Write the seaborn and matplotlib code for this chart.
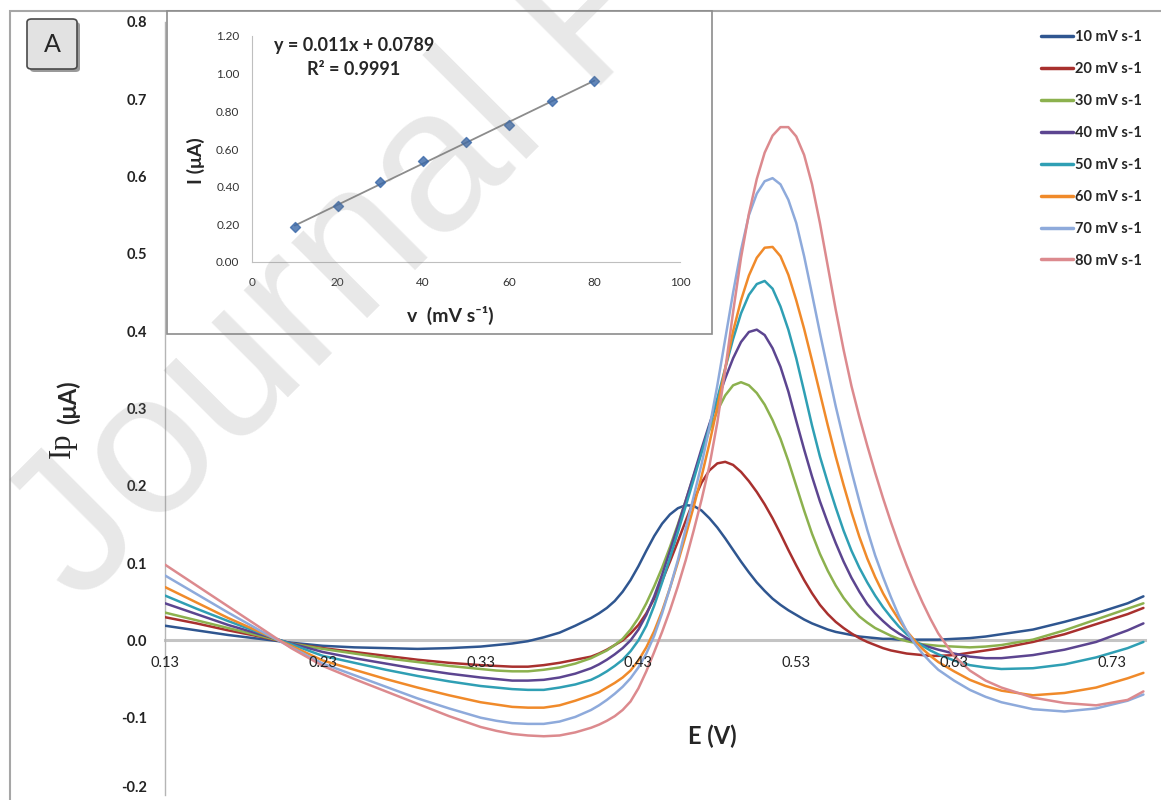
import numpy as np
import pandas as pd
import matplotlib
matplotlib.use("Agg")
import matplotlib.pyplot as plt
from matplotlib.patches import Rectangle, FancyBboxPatch
import seaborn as sns

# -------------------------------
# Data
# -------------------------------
# potential grid (V), finer where the peaks are
E = [0.13, 0.15, 0.17, 0.19, 0.21, 0.23, 0.25, 0.27, 0.29, 0.31, 0.33,
     0.34, 0.35, 0.36, 0.37, 0.38, 0.39, 0.40,
     0.405, 0.410, 0.415, 0.420, 0.425, 0.430, 0.435, 0.440, 0.445, 0.450,
     0.455, 0.460, 0.465, 0.470, 0.475, 0.480, 0.485, 0.490, 0.495, 0.500,
     0.505, 0.510, 0.515, 0.520, 0.525, 0.530, 0.535, 0.540, 0.545, 0.550,
     0.555, 0.560, 0.565, 0.570, 0.575, 0.580, 0.585, 0.590, 0.595, 0.600,
     0.605, 0.610, 0.615, 0.620,
     0.63, 0.64, 0.65, 0.66,
     0.68, 0.70, 0.72, 0.74, 0.75]

ip_10 = [0.019, 0.013, 0.007, 0.002, -0.003, -0.007, -0.009, -0.010, -0.011, -0.010, -0.008,
         -0.006, -0.004, -0.001, 0.004, 0.010, 0.019, 0.029,
         0.035, 0.042, 0.051, 0.063, 0.078, 0.096, 0.116, 0.135, 0.151, 0.163,
         0.171, 0.175, 0.174, 0.168, 0.158, 0.146, 0.132, 0.117, 0.102, 0.088,
         0.075, 0.064, 0.054, 0.046, 0.039, 0.033, 0.027, 0.022, 0.018, 0.014,
         0.011, 0.009, 0.007, 0.005, 0.004, 0.003, 0.002, 0.002, 0.001, 0.001,
         0.001, 0.001, 0.001, 0.001,
         0.002, 0.003, 0.005, 0.008,
         0.014, 0.024, 0.035, 0.048, 0.057]
ip_20 = [0.030, 0.022, 0.013, 0.005, -0.004, -0.010, -0.015, -0.020, -0.025, -0.029, -0.032,
         -0.033, -0.034, -0.034, -0.032, -0.029, -0.025, -0.021,
         -0.017, -0.012, -0.006, 0.000, 0.009, 0.020, 0.035, 0.054, 0.077, 0.102,
         0.128, 0.155, 0.181, 0.204, 0.220, 0.229, 0.231, 0.227, 0.218, 0.206,
         0.192, 0.176, 0.158, 0.138, 0.117, 0.097, 0.078, 0.061, 0.046, 0.034,
         0.024, 0.016, 0.009, 0.003, -0.002, -0.006, -0.010, -0.013, -0.015, -0.017,
         -0.018, -0.019, -0.020, -0.020,
         -0.019, -0.016, -0.013, -0.010,
         -0.002, 0.008, 0.021, 0.034, 0.042]
ip_30 = [0.036, 0.026, 0.016, 0.006, -0.004, -0.011, -0.017, -0.023, -0.028, -0.033, -0.037,
         -0.039, -0.040, -0.040, -0.038, -0.035, -0.030, -0.023,
         -0.018, -0.013, -0.006, 0.002, 0.014, 0.029, 0.048, 0.070, 0.094, 0.121,
         0.150, 0.181, 0.213, 0.244, 0.272, 0.297, 0.317, 0.330, 0.334, 0.330,
         0.320, 0.305, 0.285, 0.261, 0.232, 0.200, 0.168, 0.138, 0.112, 0.090,
         0.071, 0.055, 0.042, 0.031, 0.023, 0.016, 0.011, 0.006, 0.002, -0.001,
         -0.003, -0.005, -0.006, -0.007,
         -0.008, -0.009, -0.008, -0.006,
         0.001, 0.013, 0.027, 0.041, 0.048]
ip_40 = [0.048, 0.034, 0.020, 0.008, -0.004, -0.015, -0.023, -0.030, -0.037, -0.043, -0.048,
         -0.050, -0.052, -0.052, -0.051, -0.048, -0.043, -0.036,
         -0.031, -0.025, -0.018, -0.010, 0.000, 0.014, 0.033, 0.057, 0.085, 0.116,
         0.148, 0.181, 0.214, 0.248, 0.280, 0.310, 0.339, 0.365, 0.386, 0.399,
         0.402, 0.395, 0.378, 0.354, 0.322, 0.284, 0.247, 0.212, 0.180, 0.152,
         0.126, 0.102, 0.081, 0.063, 0.047, 0.035, 0.025, 0.016, 0.009, 0.003,
         -0.002, -0.006, -0.009, -0.012,
         -0.017, -0.021, -0.023, -0.023,
         -0.019, -0.012, -0.002, 0.013, 0.022]
ip_50 = [0.058, 0.041, 0.025, 0.010, -0.005, -0.020, -0.029, -0.038, -0.046, -0.053, -0.059,
         -0.061, -0.063, -0.064, -0.064, -0.061, -0.057, -0.051,
         -0.046, -0.040, -0.033, -0.025, -0.014, 0.000, 0.019, 0.045, 0.075, 0.107,
         0.140, 0.174, 0.208, 0.243, 0.277, 0.313, 0.352, 0.390, 0.423, 0.447,
         0.461, 0.465, 0.455, 0.432, 0.402, 0.365, 0.322, 0.278, 0.238, 0.204,
         0.172, 0.142, 0.116, 0.094, 0.075, 0.058, 0.043, 0.030, 0.018, 0.008,
         0.000, -0.007, -0.013, -0.018,
         -0.026, -0.032, -0.035, -0.037,
         -0.036, -0.031, -0.022, -0.010, -0.002]
ip_60 = [0.069, 0.049, 0.029, 0.011, -0.007, -0.026, -0.038, -0.050, -0.061, -0.071, -0.080,
         -0.083, -0.086, -0.087, -0.087, -0.084, -0.078, -0.071,
         -0.067, -0.061, -0.055, -0.048, -0.039, -0.026, -0.009, 0.012, 0.038, 0.068,
         0.101, 0.136, 0.173, 0.212, 0.255, 0.302, 0.352, 0.400, 0.440, 0.472,
         0.495, 0.508, 0.509, 0.497, 0.473, 0.440, 0.403, 0.362, 0.320, 0.278,
         0.238, 0.201, 0.166, 0.134, 0.106, 0.082, 0.061, 0.043, 0.027, 0.012,
         0.000, -0.011, -0.020, -0.028,
         -0.040, -0.051, -0.059, -0.065,
         -0.071, -0.068, -0.061, -0.049, -0.042]
ip_70 = [0.084, 0.060, 0.036, 0.013, -0.009, -0.030, -0.045, -0.060, -0.075, -0.088, -0.100,
         -0.104, -0.107, -0.108, -0.108, -0.105, -0.099, -0.090,
         -0.084, -0.077, -0.069, -0.060, -0.049, -0.035, -0.017, 0.006, 0.035, 0.068,
         0.104, 0.145, 0.186, 0.228, 0.275, 0.330, 0.390, 0.450, 0.505, 0.550,
         0.578, 0.594, 0.598, 0.590, 0.570, 0.540, 0.497, 0.448, 0.398, 0.350,
         0.303, 0.260, 0.219, 0.180, 0.143, 0.110, 0.082, 0.056, 0.032, 0.012,
         -0.004, -0.017, -0.028, -0.038,
         -0.052, -0.064, -0.073, -0.080,
         -0.089, -0.092, -0.088, -0.078, -0.070]
ip_80 = [0.098, 0.071, 0.044, 0.017, -0.010, -0.033, -0.050, -0.066, -0.082, -0.098, -0.112,
         -0.117, -0.121, -0.123, -0.124, -0.123, -0.119, -0.113,
         -0.109, -0.104, -0.098, -0.090, -0.079, -0.062, -0.040, -0.015, 0.011, 0.039,
         0.070, 0.104, 0.142, 0.182, 0.226, 0.282, 0.350, 0.425, 0.495, 0.552,
         0.597, 0.631, 0.653, 0.664, 0.664, 0.652, 0.628, 0.590, 0.540, 0.484,
         0.428, 0.376, 0.329, 0.289, 0.252, 0.217, 0.184, 0.153, 0.124, 0.097,
         0.072, 0.049, 0.028, 0.009,
         -0.020, -0.039, -0.052, -0.061,
         -0.074, -0.081, -0.084, -0.077, -0.066]

rates = ["10 mV s-1", "20 mV s-1", "30 mV s-1", "40 mV s-1",
         "50 mV s-1", "60 mV s-1", "70 mV s-1", "80 mV s-1"]
colors = ["#2f5690", "#a8302e", "#8cb14e", "#5c4590",
          "#2f9fb4", "#f08a2a", "#8eaadb", "#dc8a8e"]
curves = [ip_10, ip_20, ip_30, ip_40, ip_50, ip_60, ip_70, ip_80]

# inset: peak current vs scan rate
scan_rate = [10, 20, 30, 40, 50, 60, 70, 80]
peak_i = [0.185, 0.300, 0.424, 0.535, 0.635, 0.729, 0.856, 0.962]

x_ticks = [0.13, 0.23, 0.33, 0.43, 0.53, 0.63, 0.73]
y_ticks = [-0.2, -0.1, 0.0, 0.1, 0.2, 0.3, 0.4, 0.5, 0.6, 0.7, 0.8]
in_x_ticks = [0, 20, 40, 60, 80, 100]
in_y_ticks = [0, 0.2, 0.4, 0.6, 0.8, 1.0, 1.2]

df = pd.concat([pd.DataFrame({"E": E, "Ip": c, "rate": r}) for r, c in zip(rates, curves)],
               ignore_index=True)

# -------------------------------
# Figure
# -------------------------------
sns.set_style("white")
plt.rcParams["font.family"] = ["Lato", "DejaVu Sans"]

W, H = 1161, 800
fig = plt.figure(figsize=(W / 100, H / 100), dpi=100)

ax = fig.add_axes([165 / W, 5 / H, 980 / W, 773 / H])
sns.lineplot(data=df, x="E", y="Ip", hue="rate", hue_order=rates, palette=colors,
             estimator=None, sort=False, linewidth=1.8, ax=ax, zorder=3)

ax.set_xlim(0.13, 0.751)
ax.set_ylim(-0.2, 0.8)
ax.set_xticks(x_ticks)
ax.set_xticklabels([f"{t:.2f}" for t in x_ticks])
ax.set_yticks(y_ticks)
ax.set_yticklabels([f"{t:.1f}" for t in y_ticks])
for lab in ax.get_xticklabels() + ax.get_yticklabels():
    lab.set_fontweight("bold")
ax.get_yticklabels()[0].set_verticalalignment("bottom")   # keep "-0.2" inside the figure
ax.tick_params(axis="both", labelsize=10.5, color="#b5b5b5", length=5, width=1,
               labelcolor="#222222")
ax.tick_params(axis="y", pad=8)
ax.tick_params(axis="x", pad=6)
ax.xaxis.set_zorder(4)   # tick labels sit on top of the curves, as in Excel

ax.spines["top"].set_visible(False)
ax.spines["right"].set_visible(False)
ax.spines["bottom"].set_position(("data", 0))
ax.spines["bottom"].set_color("#c4c4c4")
ax.spines["bottom"].set_linewidth(2.2)
ax.spines["bottom"].set_zorder(1)
ax.spines["left"].set_color("#b5b5b5")
ax.spines["left"].set_linewidth(1)

ax.set_xlabel("E (V)", fontsize=17, fontweight="bold")
ax.xaxis.set_label_coords(0.558, 0.0906)
ax.set_ylabel("")
# y label: serif "Ip" followed by bold sans "(μA)"
fig.text(70 / W, (H - 458) / H, "Ip", rotation=90, rotation_mode="anchor", ha="left",
         va="baseline", fontsize=22, family=["Liberation Serif", "DejaVu Serif"])
fig.text(76 / W, (H - 424) / H, "(μA)", rotation=90, rotation_mode="anchor", ha="left",
         va="baseline", fontsize=17, fontweight="bold")

old = ax.get_legend()
handles = old.legend_handles
labels = [t.get_text() for t in old.get_texts()]
old.remove()
leg = ax.legend(handles, labels, loc="upper left", bbox_to_anchor=(1041 / W, (H - 30) / H),
                bbox_transform=fig.transFigure, frameon=False,
                prop={"weight": "bold", "size": 10.5}, handlelength=2.2, handletextpad=0.1,
                labelspacing=1.23, borderpad=0, borderaxespad=0)
for h in leg.legend_handles:
    h.set_linewidth(2.5)

# outer frame of the chart area
fig.patches.append(Rectangle((10 / W, -0.05), 1.2, (H - 11) / H + 0.05, transform=fig.transFigure,
                             facecolor="none", edgecolor="#a6a6a6", lw=1.5, zorder=1))

# panel tag "A"
fig.patches.append(FancyBboxPatch((30 / W, (H - 72) / H), 50 / W, 50 / H,
                                  boxstyle="round,pad=0,rounding_size=0.004",
                                  transform=fig.transFigure, facecolor="#9a9a9a",
                                  edgecolor="none", zorder=2))
fig.patches.append(FancyBboxPatch((27 / W, (H - 69) / H), 50 / W, 50 / H,
                                  boxstyle="round,pad=0,rounding_size=0.004",
                                  transform=fig.transFigure, facecolor="#e2e2e2",
                                  edgecolor="#4a4a4a", lw=1.2, zorder=2))
fig.text(52 / W, (H - 44) / H, "A", fontsize=18, ha="center", va="center", zorder=3)

# inset frame
fig.patches.append(Rectangle((167 / W, (H - 334) / H), 545 / W, 323 / H, transform=fig.transFigure,
                             facecolor="white", edgecolor="#8c8c8c", lw=1.2, zorder=2))

axi = fig.add_axes([252 / W, (H - 262) / H, 428 / W, 226 / H], zorder=5)
axi.set_facecolor("none")
sns.regplot(x=scan_rate, y=peak_i, ax=axi, ci=None, truncate=True, marker="D",
            scatter_kws={"s": 26, "color": "#3a68a8", "zorder": 3},
            line_kws={"color": "#8c8c8c", "lw": 1.3, "zorder": 2})
axi.set_xlim(0, 100)
axi.set_ylim(0, 1.2)
axi.set_xticks(in_x_ticks)
axi.set_yticks(in_y_ticks)
axi.set_yticklabels([f"{t:.2f}" for t in in_y_ticks])
axi.tick_params(axis="both", labelsize=8.5, color="#bfbfbf", length=3, width=1, labelcolor="#333333")
axi.tick_params(axis="y", pad=6)
axi.tick_params(axis="x", pad=8)
axi.spines["top"].set_visible(False)
axi.spines["right"].set_visible(False)
axi.spines["left"].set_color("#bfbfbf")
axi.spines["bottom"].set_color("#bfbfbf")
axi.set_xlabel("v  (mV s⁻¹)", fontsize=14, fontweight="bold")
axi.xaxis.set_label_coords(0.464, -0.195)
axi.set_ylabel("I (μA)", fontsize=14, fontweight="bold")
axi.yaxis.set_label_coords(-0.110, 0.45)
axi.text(0.238, 0.956, "y = 0.011x + 0.0789", transform=axi.transAxes,
         ha="center", va="center", fontsize=13, fontweight="bold")
axi.text(0.238, 0.850, "R² = 0.9991", transform=axi.transAxes,
         ha="center", va="center", fontsize=13, fontweight="bold")

# journal watermark
fig.text(79 / W, (H - 606) / H, "Journal Pre-proof", rotation=45, rotation_mode="anchor",
         ha="left", va="baseline", fontsize=146, color="#808080", alpha=0.18,
         family=["Liberation Sans", "DejaVu Sans"], zorder=10)

fig.savefig("out.png", dpi=100)
